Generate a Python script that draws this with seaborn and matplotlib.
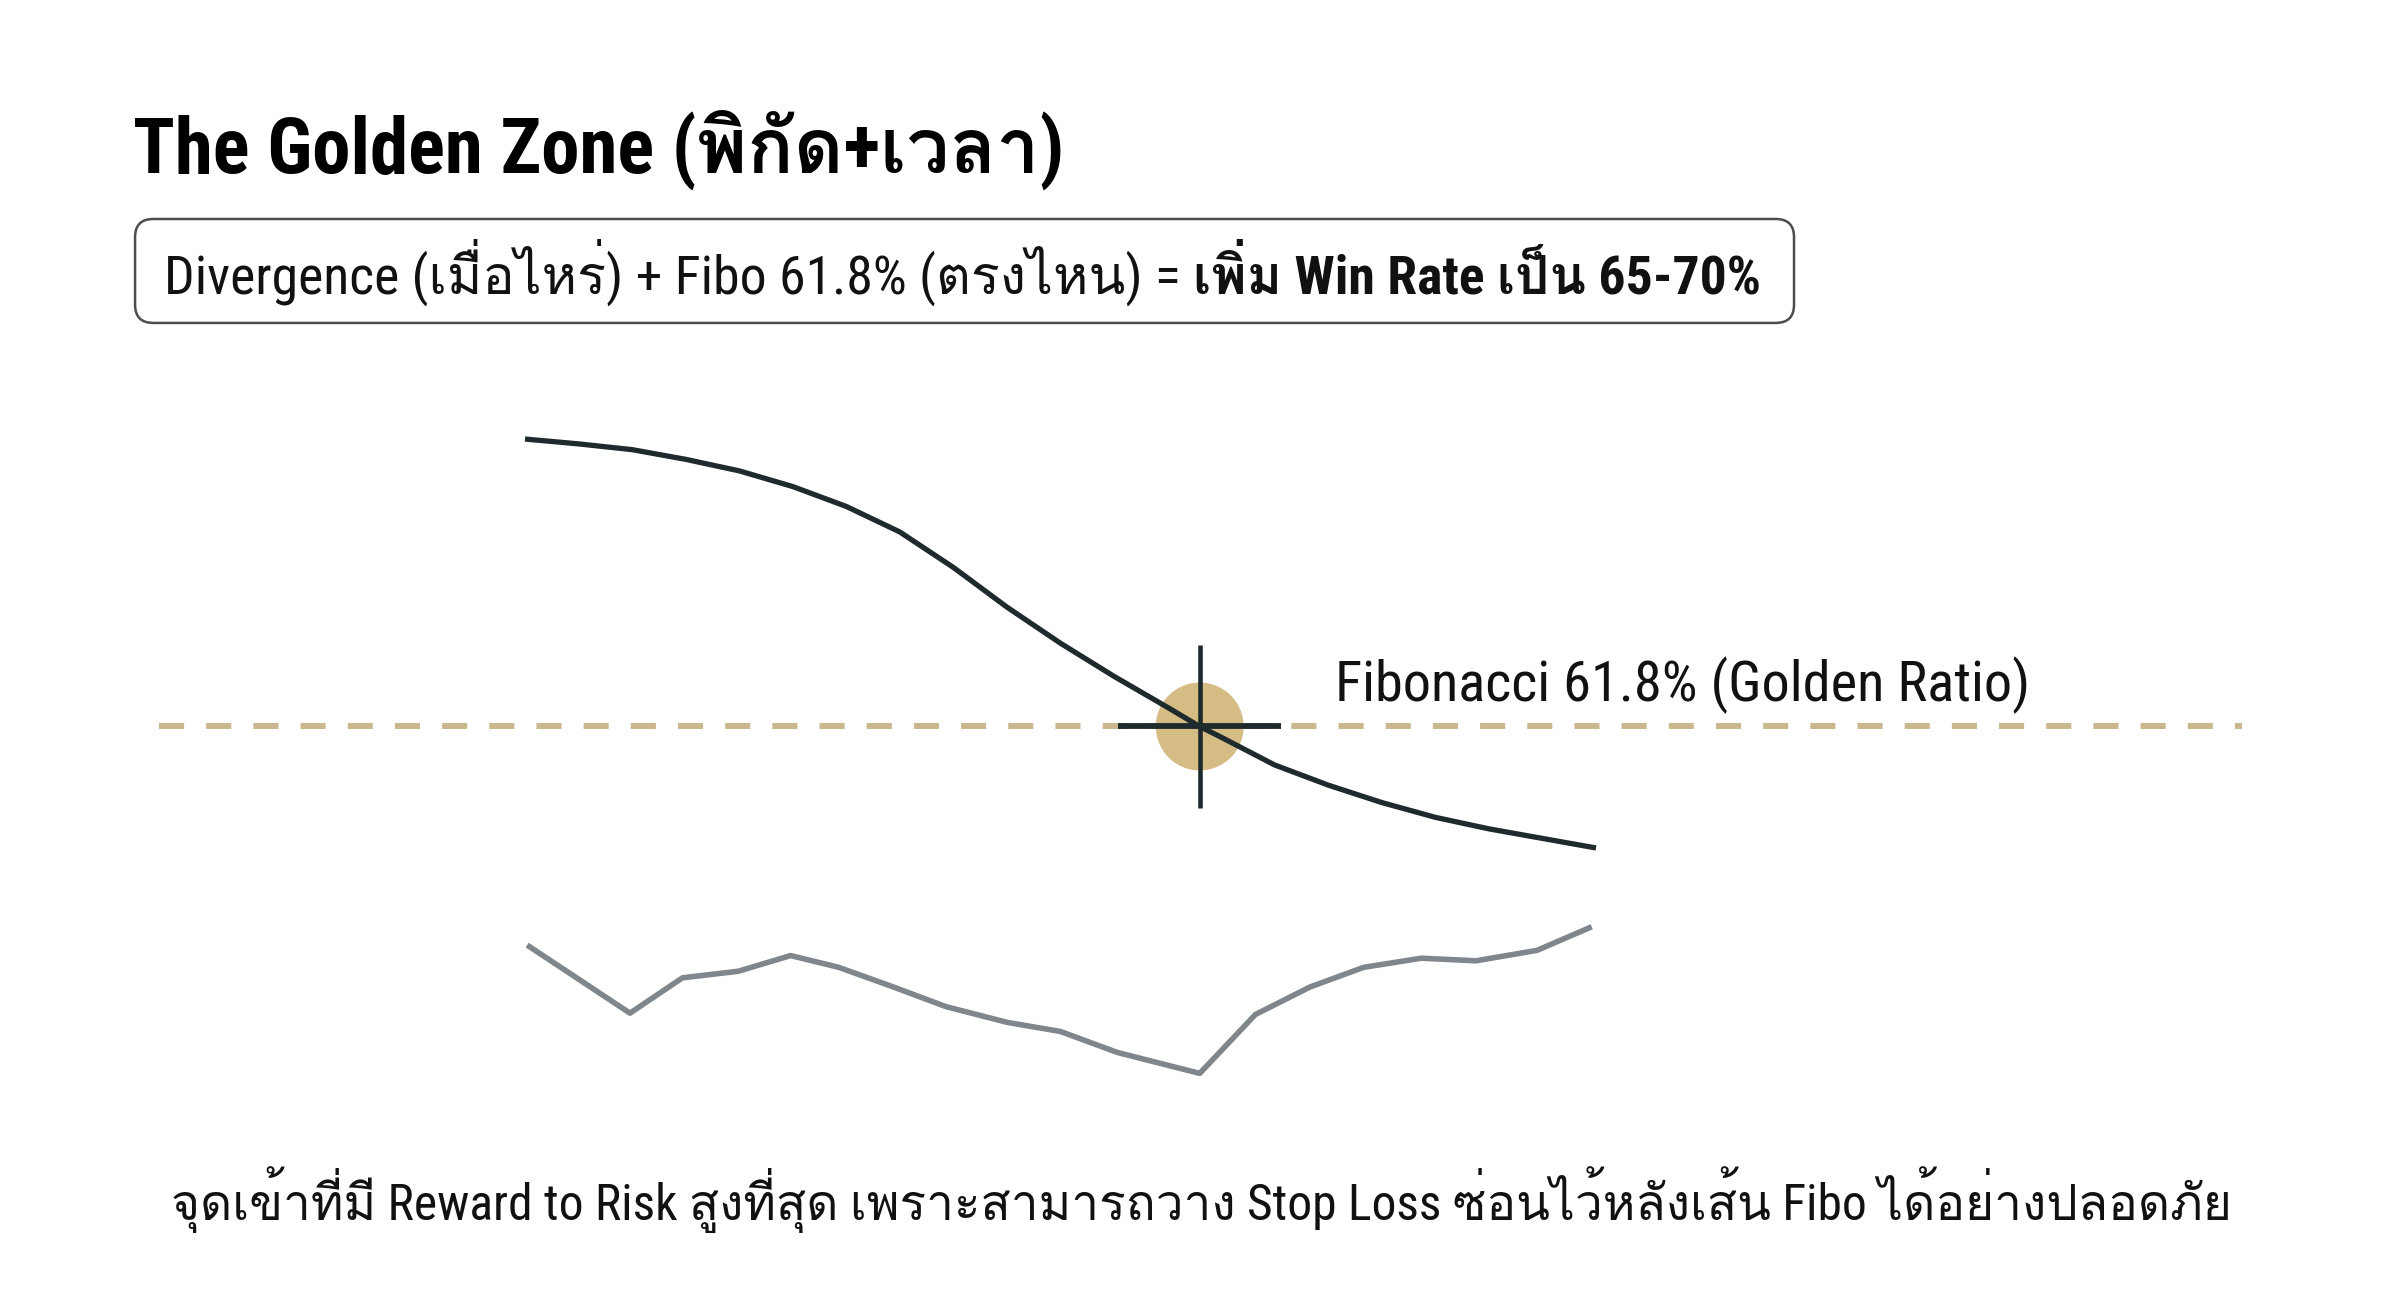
import matplotlib
matplotlib.use("Agg")
import matplotlib.pyplot as plt
import seaborn as sns
from matplotlib import font_manager
from matplotlib.ft2font import FT2Font
from matplotlib.patches import FancyBboxPatch

# ---- data ----
# price swing coming down into the 61.8% level
price_t = [0, 5, 10, 15, 20, 25, 30, 35, 40, 45, 50, 55, 60, 63, 65, 70, 75, 80, 85,
           90, 95, 100]
price_y = [66.46, 66.09, 65.65, 64.91, 64.03, 62.83, 61.31, 59.36, 56.65, 53.62, 50.86,
           48.33, 45.96, 44.5, 43.68, 41.56, 40.02, 38.69, 37.56, 36.68, 35.95, 35.22]

# oscillator underneath (divergence)
osc_t = [0.2, 9.8, 14.7, 19.9, 24.8, 29.3, 34.4, 39.3, 45.0, 50.0, 55.3, 63.0, 68.2,
         73.3, 78.3, 83.7, 88.8, 94.5, 99.6]
osc_y = [27.8, 22.6, 25.3, 25.8, 27.0, 26.1, 24.6, 23.1, 21.9, 21.2, 19.6, 18.0, 22.5,
         24.6, 26.1, 26.8, 26.6, 27.4, 29.2]

fib_level = 44.5
fib_span = [-34.2, 160.3]
entry_t = [63.0]
entry_y = [44.5]

title = "The Golden Zone (พิกัด+เวลา)"
box_normal = "Divergence (เมื่อไหร่) + Fibo 61.8% (ตรงไหน) = "
box_bold = "เพิ่ม Win Rate เป็น 65-70%"
fib_label = "Fibonacci 61.8% (Golden Ratio)"
footer = ("จุดเข้าที่มี Reward to Risk สูงที่สุด เพราะสามารถวาง Stop Loss "
          "ซ่อนไว้หลังเส้น Fibo ได้อย่างปลอดภัย")

GOLD = "#d5bb84"
DASH = "#cbb78d"
DARK = "#1f2a2d"
GREY = "#7f878c"


def thai_family():
    # installed family with Thai glyphs, one that also ships a bold face if possible
    found = {}
    for f in font_manager.fontManager.ttflist:
        try:
            cmap = FT2Font(f.fname).get_charmap()
        except Exception:
            continue
        if 0x0E01 in cmap and 0x0E34 in cmap:
            w = f.weight if isinstance(f.weight, int) else 400
            found.setdefault(f.name, set()).add(w)
    if not found:
        return None
    prefs = ["Noto Sans Thai", "Noto Sans Thai UI", "Noto Sans Thai Looped", "Loma", "Garuda"]
    names = sorted(found, key=lambda n: (max(found[n]) < 600,
                                         prefs.index(n) if n in prefs else 99))
    return names[0]


installed = {f.name for f in font_manager.fontManager.ttflist}
latin = next(n for n in ["Roboto Condensed", "Liberation Sans Narrow", "Roboto", "Noto Sans"]
             if n in installed)

sns.set_theme(style="white")
fams = [latin]
th = thai_family()
if th:
    fams.append(th)
fams.append("DejaVu Sans")
plt.rcParams["font.family"] = fams

fig = plt.figure(figsize=(24, 13.09), dpi=100, facecolor="white")
ax = fig.add_axes([0, 0, 1, 1])
ax.set_xlim(-49.02, 175.07)
ax.set_ylim(0, 100)
ax.axis("off")

# fibonacci level
ax.plot(fib_span, [fib_level, fib_level], color=DASH, lw=4.3, dashes=(4.2, 3.7), zorder=1)

# entry marker
sns.scatterplot(x=entry_t, y=entry_y, s=4000, color=GOLD, edgecolor="none", ax=ax, zorder=2)
ax.vlines(entry_t[0], entry_y[0] - 6.2, entry_y[0] + 6.2, color=DARK, lw=3.3, zorder=3)
ax.hlines(entry_y[0], entry_t[0] - 7.6, entry_t[0] + 7.6, color=DARK, lw=4.2, zorder=3)

sns.lineplot(x=price_t, y=price_y, color=DARK, lw=3.8, ax=ax, zorder=4,
             solid_joinstyle="round", solid_capstyle="butt")
sns.lineplot(x=osc_t, y=osc_y, color=GREY, lw=4.0, ax=ax, zorder=4,
             solid_joinstyle="round", solid_capstyle="butt")

# header box
box = FancyBboxPatch((-36.41, 75.33), 154.9, 7.94,
                     boxstyle="round,pad=0,rounding_size=1.7", mutation_aspect=0.82,
                     facecolor="white", edgecolor="#4d4d4d", lw=1.8, zorder=5)
ax.add_patch(box)

t_title = ax.text(-36.6, 86.8, title, fontsize=40, fontweight="bold", color="black",
                  va="baseline", ha="left", zorder=6)
t_norm = ax.text(-33.7, 77.6, box_normal, fontsize=30, color="#111111",
                 va="baseline", ha="left", zorder=6)
t_bold = ax.text(0, 77.6, box_bold, fontsize=30, fontweight="bold", color="#111111",
                 va="baseline", ha="left", zorder=6)
t_fib = ax.text(75.6, 46.45, fib_label, fontsize=30, color="#111111",
                va="baseline", ha="left", zorder=6)
t_foot = ax.text(-33.1, 6.8, footer, fontsize=30, color="#111111",
                 va="baseline", ha="left", zorder=6)

fig.canvas.draw()
r = fig.canvas.get_renderer()


def fit(texts, target_px):
    w = sum(t.get_window_extent(r).width for t in texts)
    for t in texts:
        t.set_fontsize(t.get_fontsize() * target_px / w)


fit([t_title], 931)
fit([t_fib], 695)
fit([t_foot], 2060)
fit([t_norm, t_bold], 1596)
fig.canvas.draw()
x_end = ax.transData.inverted().transform((t_norm.get_window_extent(r).x1, 0))[0]
t_bold.set_x(x_end)

fig.savefig("out.png", dpi=100, facecolor="white")
